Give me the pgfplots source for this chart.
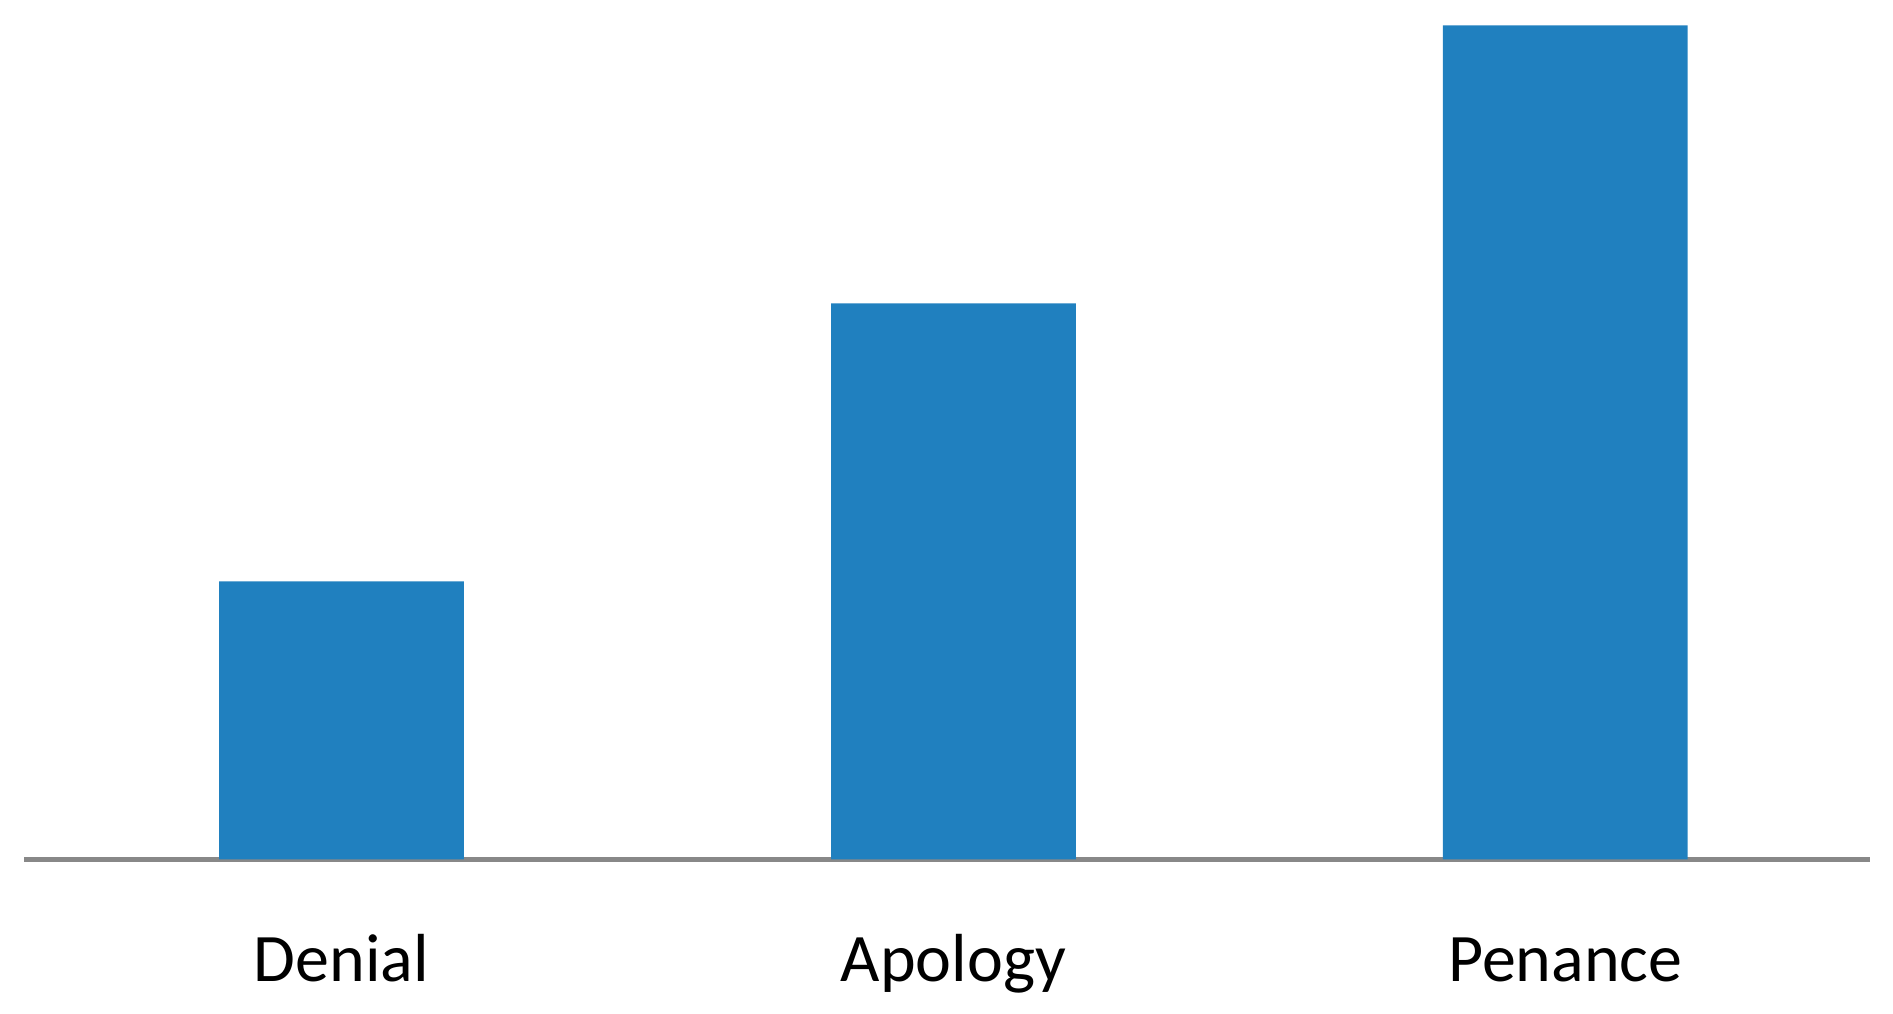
\documentclass[border=0pt]{standalone}
\usepackage{fontspec}
\setmainfont{Carlito}
\usepackage{pgfplots}
\pgfplotsset{compat=1.18}
\definecolor{barblue}{HTML}{2080BF}
\definecolor{axgray}{HTML}{888888}
\begin{document}
\begin{tikzpicture}
\begin{axis}[
  scale only axis,
  width=461.5pt, height=214.875pt,
  xmin=-0.519, xmax=2.498,
  ymin=0, ymax=3.091,
  axis x line*=bottom,
  axis y line=none,
  x axis line style={draw=axgray, line width=1.4pt, -},
  xtick={0,1,2},
  xticklabels={Denial,Apology,Penance},
  major tick length=0pt,
  xticklabel style={anchor=base, yshift=-30.5pt, font=\fontsize{17}{20}\selectfont, text=black},
  ytick=\empty,
  clip=false,
]
\addplot[ybar, bar width=0.4, fill=barblue, draw=none] coordinates {(0,1) (1,2) (2,3)};
\end{axis}
\pgfresetboundingbox
\path (-6pt,-38.625pt) rectangle (467.25pt,214.875pt);
\end{tikzpicture}
\end{document}
